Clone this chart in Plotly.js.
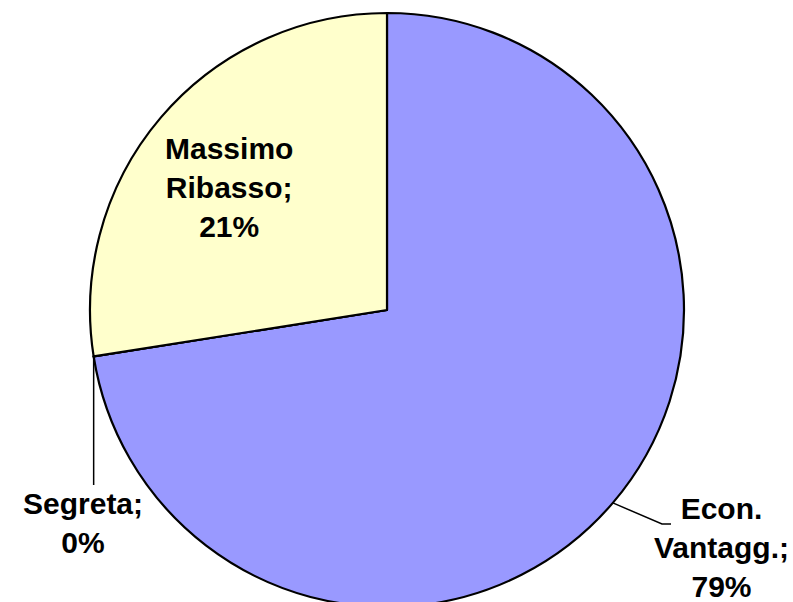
<!DOCTYPE html>
<html>
<head>
<meta charset="utf-8">
<script src="https://cdn.plot.ly/plotly-3.0.1.min.js"></script>
<style>
  html, body { margin: 0; padding: 0; background: #ffffff; overflow: hidden; }
  #chart { width: 793px; height: 620px; }
</style>
</head>
<body>
<div id="chart"></div>
<script>
// Categories in clockwise drawing order, starting at 12 o'clock
var categories = ["Econ. Vantagg.", "Segreta", "Massimo Ribasso"];
// Slice sizes as drawn in the picture (share of the full circle, %)
var sliceShares = [72.5, 0, 27.5];
// Percentages printed on the labels
var labelPercents = ["79%", "0%", "21%"];
// Label text lines
var labelLines = [["Econ.", "Vantagg.;"], ["Segreta;"], ["Massimo", "Ribasso;"]];
var sliceColors = ["#9999FF", "#993366", "#FFFFCC"];

var W = 793, H = 620;
var cx = 387, cy = 310, R = 297;
function px(x) { return x / W; }
function py(y) { return 1 - y / H; }

// angle (deg clockwise from top) of a slice's middle, from data
var total = sliceShares.reduce(function (a, b) { return a + b; }, 0);
function midAngle(i) {
  var before = 0;
  for (var k = 0; k < i; k++) before += sliceShares[k];
  return (before + sliceShares[i] / 2) / total * 360;
}
function edgePoint(i) {
  var a = midAngle(i) * Math.PI / 180;
  return [cx + R * Math.sin(a), cy - R * Math.cos(a)];
}

var trace = {
  type: "pie",
  labels: categories,
  values: sliceShares,
  sort: false,
  direction: "clockwise",
  rotation: 0,
  textinfo: "none",
  hoverinfo: "none",
  marker: { colors: sliceColors, line: { color: "#000000", width: 2.2 } },
  domain: { x: [px(cx - R), px(cx + R)], y: [py(cy + R), py(cy - R)] },
  showlegend: false
};

var labelPos = [[721, 547], [83, 523], [229, 187]];
var fnt = { family: "Liberation Sans, Arial, sans-serif", size: 30, color: "#000000" };
var annotations = categories.map(function (c, i) {
  var lines = labelLines[i].concat([labelPercents[i]]);
  return {
    xref: "paper", yref: "paper",
    x: px(labelPos[i][0]), y: py(labelPos[i][1]),
    xanchor: "center", yanchor: "middle",
    align: "center",
    showarrow: false,
    text: lines.map(function (l) { return "<b>" + l + "</b>"; }).join("<br>"),
    font: fnt
  };
});

var e0 = edgePoint(0);
var e1 = edgePoint(1);
var shapes = [
  {
    type: "path", xref: "paper", yref: "paper",
    path: "M" + px(e0[0]) + "," + py(e0[1]) + " L" + px(662) + "," + py(524) + " L" + px(671) + "," + py(524),
    line: { color: "#000000", width: 1.5 }
  },
  {
    type: "path", xref: "paper", yref: "paper",
    path: "M" + px(e1[0]) + "," + py(e1[1]) + " L" + px(e1[0]) + "," + py(485),
    line: { color: "#000000", width: 1.5 }
  }
];

var layout = {
  width: W, height: H,
  margin: { l: 0, r: 0, t: 0, b: 0 },
  paper_bgcolor: "#ffffff",
  plot_bgcolor: "#ffffff",
  annotations: annotations,
  shapes: shapes
};

Plotly.newPlot("chart", [trace], layout, { displayModeBar: false, staticPlot: true });
</script>
</body>
</html>
